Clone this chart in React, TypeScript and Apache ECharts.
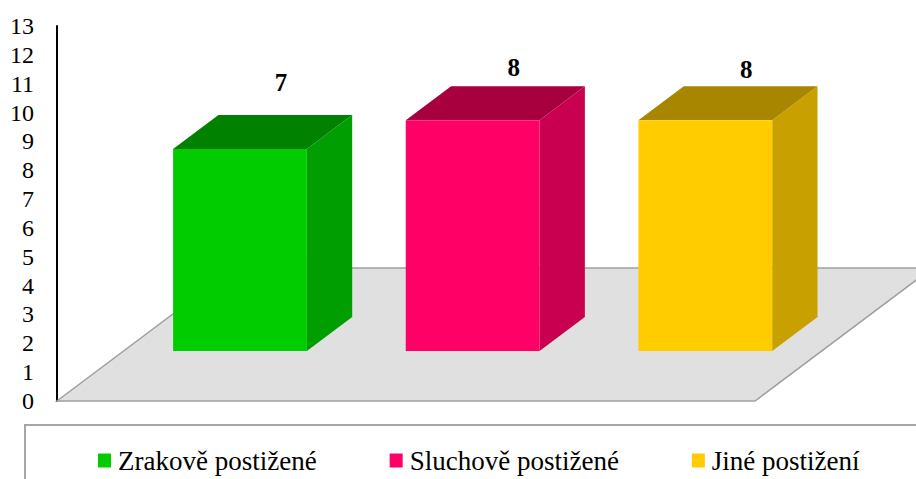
import React, { useEffect, useRef } from "react";
import * as echarts from "echarts";

const categories = ["Zrakově postižené", "Sluchově postižené", "Jiné postižení"];
const values = [7, 8, 8];
const yTicks = { min: 0, max: 13, interval: 1 };

const FRONT = ["#00CC00", "#FF0066", "#FFCC00"];
const TOP = ["#008200", "#A8003F", "#A88600"];
const SIDE = ["#009E00", "#C8004F", "#C8A000"];
const LABEL_GAPS = [33, 19, 17];

const SLANT = 1.333; // horizontal px per vertical px of depth
const FLOOR_DEPTH = 133;
const BAR_FRONT_DEPTH = 50;
const BAR_DEPTH = 34;
const FONT = "Liberation Serif";

export default function App() {
  const ref = useRef<HTMLDivElement>(null);
  useEffect(() => {
    if (!ref.current) return;
    const chart = echarts.init(ref.current, null, { renderer: "svg" });

    const floorSeries: any = {
      type: "custom",
      z: 1,
      clip: false,
      silent: true,
      data: [[0, 0]],
      renderItem: (params: any) => {
        const cs = params.coordSys;
        const x0 = cs.x;
        const x1 = cs.x + cs.width;
        const y0 = cs.y + cs.height;
        const dx = FLOOR_DEPTH * SLANT;
        const yb = y0 - FLOOR_DEPTH;
        return {
          type: "polygon",
          shape: { points: [[x0, y0], [x1, y0], [x1 + dx, yb], [x0 + dx, yb]] },
          style: { fill: "#E0E0E0", stroke: "#A0A0A0", lineWidth: 1.5 },
        };
      },
    };

    const barSeries = categories.map((name, i) => ({
      type: "custom",
      name,
      z: 2,
      clip: false,
      itemStyle: { color: FRONT[i] },
      data: [[i, values[i]]],
      renderItem: (params: any, api: any) => {
        const idx = api.value(0);
        const val = api.value(1);
        const pTop = api.coord([idx, val]);
        const pBase = api.coord([idx, 0]);
        const band = api.size([1, 0])[0];
        const w = band * 0.575;
        const cx = pTop[0] + BAR_FRONT_DEPTH * SLANT;
        const l = cx - w / 2;
        const r = cx + w / 2;
        const b = pBase[1] - BAR_FRONT_DEPTH;
        const t = pTop[1] - BAR_FRONT_DEPTH;
        const ddx = BAR_DEPTH * SLANT;
        const ddy = BAR_DEPTH;
        return {
          type: "group",
          children: [
            {
              type: "polygon",
              shape: { points: [[r, t], [r + ddx, t - ddy], [r + ddx, b - ddy], [r, b]] },
              style: { fill: SIDE[i] },
            },
            {
              type: "polygon",
              shape: { points: [[l, t], [l + ddx, t - ddy], [r + ddx, t - ddy], [r, t]] },
              style: { fill: TOP[i] },
            },
            {
              type: "rect",
              shape: { x: l, y: t, width: w, height: b - t },
              style: { fill: FRONT[i] },
            },
            {
              type: "text",
              style: {
                text: String(val),
                x: cx + 41,
                y: t - ddy - LABEL_GAPS[i],
                align: "center",
                verticalAlign: "middle",
                fontSize: 25,
                fontWeight: "bold",
                fontFamily: FONT,
                fill: "#000",
              },
            },
          ],
        };
      },
    }));

    chart.setOption({
      animation: false,
      backgroundColor: "#fff",
      textStyle: { fontFamily: FONT },
      grid: { left: 57, top: 26, width: 698, height: 375, containLabel: false },
      xAxis: {
        type: "category",
        data: categories,
        show: false,
        boundaryGap: true,
      },
      yAxis: {
        type: "value",
        min: yTicks.min,
        max: yTicks.max,
        interval: yTicks.interval,
        axisLine: { show: true, lineStyle: { color: "#000", width: 2 } },
        axisTick: { show: false },
        splitLine: { show: false },
        axisLabel: {
          color: "#000",
          fontSize: 24,
          fontFamily: FONT,
          margin: 23,
        },
      },
      legend: {
        data: categories,
        left: 98,
        top: 447,
        padding: 0,
        icon: "rect",
        itemWidth: 13,
        itemHeight: 14,
        itemGap: 73,
        selectedMode: false,
        textStyle: { fontSize: 27, fontFamily: FONT, color: "#000", padding: [0, 0, 0, 2] },
      },
      graphic: [
        {
          type: "rect",
          shape: { x: 25, y: 425, width: 950, height: 100 },
          style: { fill: "none", stroke: "#A6A6A6", lineWidth: 2 },
          silent: true,
        },
      ],
      series: [floorSeries, ...barSeries],
    });
    return () => chart.dispose();
  }, []);
  return (
    <div
      ref={ref}
      style={{ position: "fixed", left: 0, top: 0, width: 916, height: 479 }}
    />
  );
}
